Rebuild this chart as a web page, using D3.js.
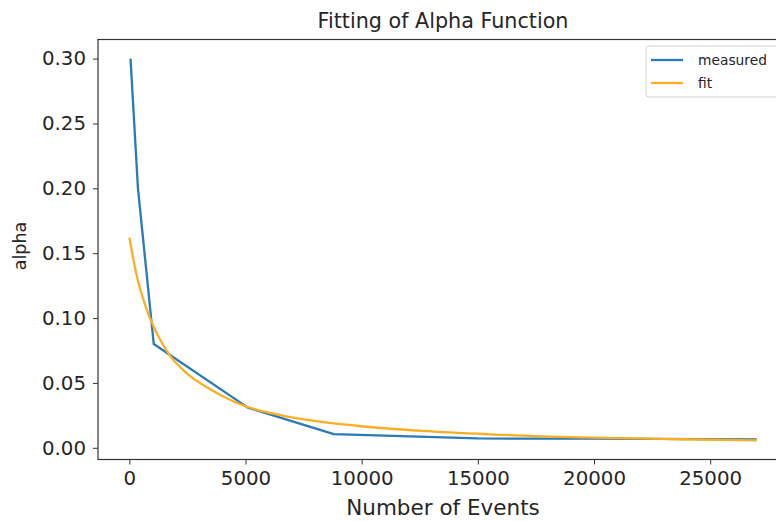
<!DOCTYPE html>
<html>
<head>
    <title>Fitting of Alpha Function</title>
    <script src="https://d3js.org/d3.v7.min.js"></script>
    <style>
        body { margin:0; background:#fff; }
        svg { font-family: "DejaVu Sans", sans-serif; display:block; }
        .tick text { fill:#262626; }
        path.line { fill:none; stroke-width:2.3; stroke-linejoin:round; }
    </style>
</head>
<body>
    <script>
    // measured alpha values
    var measuredEvents = [50, 370, 1050, 5100, 8800, 15000, 20000, 27000];
    var measuredAlpha  = [0.30, 0.20, 0.080, 0.031, 0.0105, 0.0072, 0.0070, 0.0065];

    // fitted curve
    var fitEvents = [0, 300, 700, 1000, 1400, 1750, 2500, 3300, 4000, 5000, 7000, 9800, 12600, 15500, 19400, 23700, 27000];
    var fitAlpha  = [0.162, 0.134, 0.109, 0.095, 0.081, 0.071, 0.057, 0.047, 0.040, 0.032, 0.0235, 0.017, 0.013, 0.0104, 0.0081, 0.0066, 0.0057];

    var xTicks = [0, 5000, 10000, 15000, 20000, 25000];
    var yTicks = [0, 0.05, 0.10, 0.15, 0.20, 0.25, 0.30];

    var measured = measuredEvents.map(function(d,i){ return {x:d, y:measuredAlpha[i]}; });
    var fit = fitEvents.map(function(d,i){ return {x:d, y:fitAlpha[i]}; });

    var W = 776, H = 521;
    var pLeft = 98, pRight = 788, pTop = 39.5, pBottom = 459.5;

    // matplotlib style 5% margins
    var allX = fitEvents.concat(measuredEvents), allY = fitAlpha.concat(measuredAlpha);
    var xmin = d3.min(allX), xmax = d3.max(allX), ymin = d3.min(allY), ymax = d3.max(allY);
    var xpad = (xmax - xmin) * 0.05, ypad = (ymax - ymin) * 0.05;

    var x = d3.scaleLinear().domain([xmin - xpad, xmax + xpad]).range([pLeft, pRight]);
    var y = d3.scaleLinear().domain([ymin - ypad, ymax + ypad]).range([pBottom, pTop]);

    var svg = d3.select("body").append("svg").attr("width", W).attr("height", H);

    var line = d3.line().x(function(d){ return x(d.x); }).y(function(d){ return y(d.y); });

    svg.append("path").datum(measured).attr("class","line")
        .attr("stroke","#2a7ab8").attr("d", line);
    svg.append("path").datum(fit).attr("class","line")
        .attr("stroke","#fbae24").attr("d", line.curve(d3.curveMonotoneX));

    // axes
    var xAxis = svg.append("g").attr("transform","translate(0," + pBottom + ")")
        .call(d3.axisBottom(x).tickValues(xTicks).tickFormat(d3.format("d")).tickSizeOuter(0).tickSize(5).tickPadding(6));
    var yAxis = svg.append("g").attr("transform","translate(" + pLeft + ",0)")
        .call(d3.axisLeft(y).tickValues(yTicks).tickFormat(d3.format(".2f")).tickSizeOuter(0).tickSize(5).tickPadding(7));
    [xAxis, yAxis].forEach(function(a){
        a.select(".domain").remove();
        a.selectAll(".tick line").attr("stroke","#333");
        a.selectAll(".tick text").style("font-size","19.8px").style("font-family","DejaVu Sans");
    });

    // frame
    svg.append("rect").attr("x", pLeft).attr("y", pTop)
        .attr("width", pRight - pLeft).attr("height", pBottom - pTop)
        .attr("fill","none").attr("stroke","#333").attr("stroke-width",1.2);

    // labels
    svg.append("text").attr("x", 443).attr("y", 28).attr("text-anchor","middle")
        .style("font-size","20.7px").attr("fill","#262626").text("Fitting of Alpha Function");
    svg.append("text").attr("x", 443).attr("y", 515).attr("text-anchor","middle")
        .style("font-size","21.5px").attr("fill","#262626").text("Number of Events");
    svg.append("text").attr("transform","translate(26,246) rotate(-90)").attr("text-anchor","middle")
        .style("font-size","17.5px").attr("fill","#262626").text("alpha");

    // legend
    var leg = svg.append("g");
    leg.append("rect").attr("x",646).attr("y",46).attr("width",160).attr("height",51).attr("rx",3)
        .attr("fill","#fff").attr("fill-opacity",0.8).attr("stroke","#d0d0d0");
    var items = [{name:"measured", color:"#2a7ab8"}, {name:"fit", color:"#fbae24"}];
    items.forEach(function(it, i){
        var yy = 60 + i * 23;
        leg.append("line").attr("x1",651).attr("x2",683).attr("y1",yy).attr("y2",yy)
            .attr("stroke", it.color).attr("stroke-width",2.3);
        leg.append("text").attr("x",698).attr("y",yy + 5).style("font-size","13.8px")
            .attr("fill","#262626").text(it.name);
    });
    </script>
</body>
</html>
